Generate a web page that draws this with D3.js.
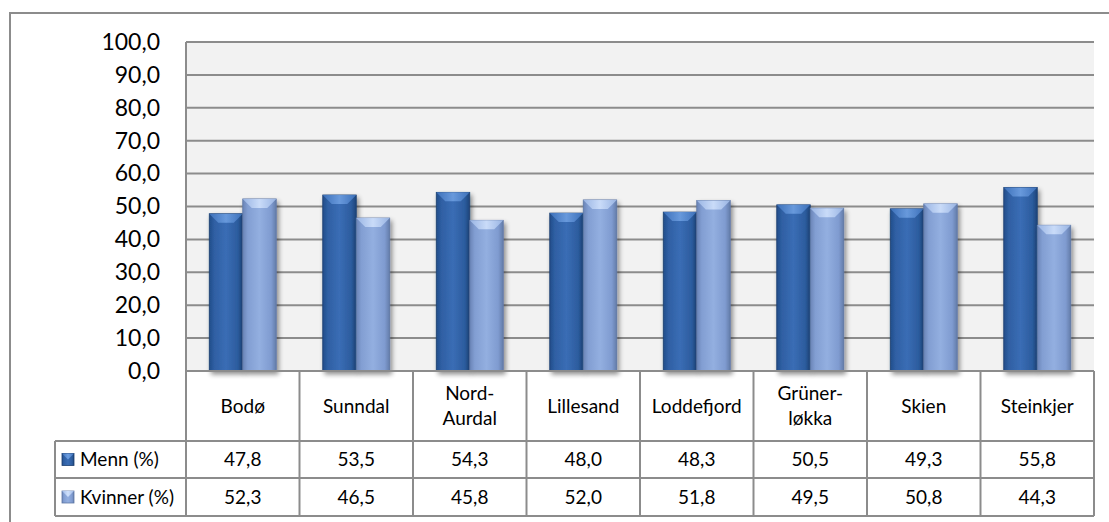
<!DOCTYPE html>
<html>
<head>
<meta charset="utf-8">
<script src="https://cdn.jsdelivr.net/npm/d3@7"></script>
<style>
  body { margin: 0; background: #fff; }
  text { font-family: Lato, "Open Sans", sans-serif; fill: #000; }
</style>
</head>
<body>
<div id="chart"></div>
<script>
// data
var categories = [["Bodø"], ["Sunndal"], ["Nord-", "Aurdal"], ["Lillesand"], ["Loddefjord"], ["Grüner-", "løkka"], ["Skien"], ["Steinkjer"]];
var seriesNames = ["Menn (%)", "Kvinner (%)"];
var menn = [47.8, 53.5, 54.3, 48.0, 48.3, 50.5, 49.3, 55.8];
var kvinner = [52.3, 46.5, 45.8, 52.0, 51.8, 49.5, 50.8, 44.3];
var yTicks = [0, 10, 20, 30, 40, 50, 60, 70, 80, 90, 100];

var W = 1109, H = 522;
var plot = {left: 186, right: 1094, top: 42, bottom: 371};
var rowY = [371, 441, 478, 516];
var legendLeft = 55;
var lineCol = "#8c8c8c";

var svg = d3.select("#chart").append("svg")
  .attr("width", W).attr("height", H)
  .style("display", "block");

var defs = svg.append("defs");
function hGrad(id, stops) {
  var g = defs.append("linearGradient").attr("id", id)
    .attr("x1", "0%").attr("x2", "100%").attr("y1", "0%").attr("y2", "0%");
  stops.forEach(function(s) { g.append("stop").attr("offset", s[0]).attr("stop-color", s[1]); });
}
hGrad("gMenn", [["0%", "#214d8a"], ["15%", "#2f5fa3"], ["50%", "#3a6db5"], ["85%", "#2c5c9e"], ["100%", "#1d4479"]]);
hGrad("gKv", [["0%", "#6a84b6"], ["15%", "#829ed2"], ["50%", "#93afe0"], ["85%", "#7f9bd0"], ["100%", "#637ca9"]]);
hGrad("gMennTop", [["0%", "#3f73bd"], ["50%", "#6d9ee0"], ["100%", "#3f73bd"]]);
hGrad("gKvTop", [["0%", "#9db8e6"], ["50%", "#cfe0fb"], ["100%", "#9db8e6"]]);
var f = defs.append("filter").attr("id", "shadow").attr("x", "-30%").attr("y", "-10%").attr("width", "160%").attr("height", "130%");
f.append("feGaussianBlur").attr("in", "SourceAlpha").attr("stdDeviation", 2.5).attr("result", "b");
f.append("feOffset").attr("in", "b").attr("dx", 2).attr("dy", 3).attr("result", "o");
f.append("feComponentTransfer").attr("in", "o").attr("result", "s")
  .append("feFuncA").attr("type", "linear").attr("slope", 0.45);
var fm = f.append("feMerge");
fm.append("feMergeNode").attr("in", "s");
fm.append("feMergeNode").attr("in", "SourceGraphic");

// outer chart border (right and bottom edges fall outside the picture)
svg.append("rect")
  .attr("x", 10).attr("y", 13).attr("width", 1110).attr("height", 530)
  .attr("fill", "none").attr("stroke", lineCol).attr("stroke-width", 2);

// scales
var x0 = d3.scaleBand().domain(d3.range(categories.length)).range([plot.left, plot.right]).padding(0);
var x1 = d3.scaleBand().domain([0, 1]).range([x0.bandwidth() * 0.205, x0.bandwidth() * 0.795]).padding(0);
var y = d3.scaleLinear().domain([0, 100]).range([plot.bottom, plot.top]);

// plot background
svg.append("rect")
  .attr("x", plot.left).attr("y", plot.top)
  .attr("width", plot.right - plot.left).attr("height", plot.bottom - plot.top)
  .attr("fill", "#f2f2f2");

// gridlines
svg.append("g").selectAll("line").data(yTicks).enter().append("line")
  .attr("x1", plot.left).attr("x2", plot.right)
  .attr("y1", function(d) { return y(d); }).attr("y2", function(d) { return y(d); })
  .attr("stroke", lineCol).attr("stroke-width", 2);

// y axis labels
var yAxis = d3.axisLeft(y).tickValues(yTicks).tickSize(0).tickPadding(0)
  .tickFormat(function(d) { return d3.format(".1f")(d).replace(".", ","); });
var ga = svg.append("g").attr("transform", "translate(160,0)").call(yAxis);
ga.select(".domain").remove();
ga.selectAll("text").style("font-family", "Lato, sans-serif").style("font-size", "23px").attr("fill", "#000");

// left plot edge
svg.append("line").attr("x1", plot.left).attr("x2", plot.left)
  .attr("y1", plot.top).attr("y2", plot.bottom)
  .attr("stroke", lineCol).attr("stroke-width", 2);

// bars
var series = [menn, kvinner];
var fills = ["url(#gMenn)", "url(#gKv)"];
var tops = ["url(#gMennTop)", "url(#gKvTop)"];
var strokes = ["#1c3f70", "#5f78a6"];
var bars = svg.append("g");
categories.forEach(function(c, i) {
  series.forEach(function(s, k) {
    var bx = x0(i) + x1(k), bw = x1.bandwidth(), by = y(s[i]), bh = plot.bottom - by;
    var g = bars.append("g").attr("filter", "url(#shadow)");
    g.append("rect").attr("x", bx).attr("y", by).attr("width", bw).attr("height", bh)
      .attr("fill", fills[k]).attr("stroke", strokes[k]).attr("stroke-width", 0.8);
    var b = 9;
    g.append("path")
      .attr("d", "M" + bx + "," + by + "L" + (bx + bw) + "," + by +
        "L" + (bx + bw - b) + "," + (by + b) + "L" + (bx + b) + "," + (by + b) + "Z")
      .attr("fill", tops[k]).attr("opacity", 0.9);
  });
});

// data table grid
var tg = svg.append("g").attr("stroke", lineCol).attr("stroke-width", 2);
tg.append("line").attr("x1", plot.left).attr("x2", plot.right).attr("y1", rowY[0]).attr("y2", rowY[0]);
[1, 2, 3].forEach(function(r) {
  tg.append("line").attr("x1", legendLeft).attr("x2", plot.right).attr("y1", rowY[r]).attr("y2", rowY[r]);
});
d3.range(categories.length + 1).forEach(function(i) {
  var xx = i < categories.length ? x0(i) : plot.right;
  tg.append("line").attr("x1", xx).attr("x2", xx).attr("y1", rowY[0]).attr("y2", rowY[3]);
});
tg.append("line").attr("x1", legendLeft).attr("x2", legendLeft).attr("y1", rowY[1]).attr("y2", rowY[3]);

// category labels
var fs = 19;
categories.forEach(function(c, i) {
  var cx = x0(i) + x0.bandwidth() / 2;
  var cy = (rowY[0] + rowY[1]) / 2;
  var t = svg.append("text").attr("x", cx).attr("text-anchor", "middle")
    .style("font-size", fs + "px");
  c.forEach(function(line, j) {
    t.append("tspan").attr("x", cx)
      .attr("y", cy + (j - (c.length - 1) / 2) * 25)
      .attr("dy", "0.35em").text(line);
  });
});

// value rows
series.forEach(function(s, k) {
  var cy = (rowY[k + 1] + rowY[k + 2]) / 2;
  s.forEach(function(v, i) {
    svg.append("text").attr("x", x0(i) + x0.bandwidth() / 2).attr("y", cy)
      .attr("dy", "0.35em").attr("text-anchor", "middle")
      .style("font-size", fs + "px")
      .text(d3.format(".1f")(v).replace(".", ","));
  });
  // legend key
  svg.append("rect").attr("x", 62).attr("y", cy - 6).attr("width", 12).attr("height", 12)
    .attr("fill", fills[k]).attr("stroke", strokes[k]).attr("stroke-width", 0.8);
  svg.append("path")
    .attr("d", "M62," + (cy - 6) + "L74," + (cy - 6) + "L68," + cy + "Z")
    .attr("fill", tops[k]);
  svg.append("text").attr("x", 80).attr("y", cy).attr("dy", "0.35em")
    .style("font-size", fs + "px").text(seriesNames[k]);
});
</script>
</body>
</html>
